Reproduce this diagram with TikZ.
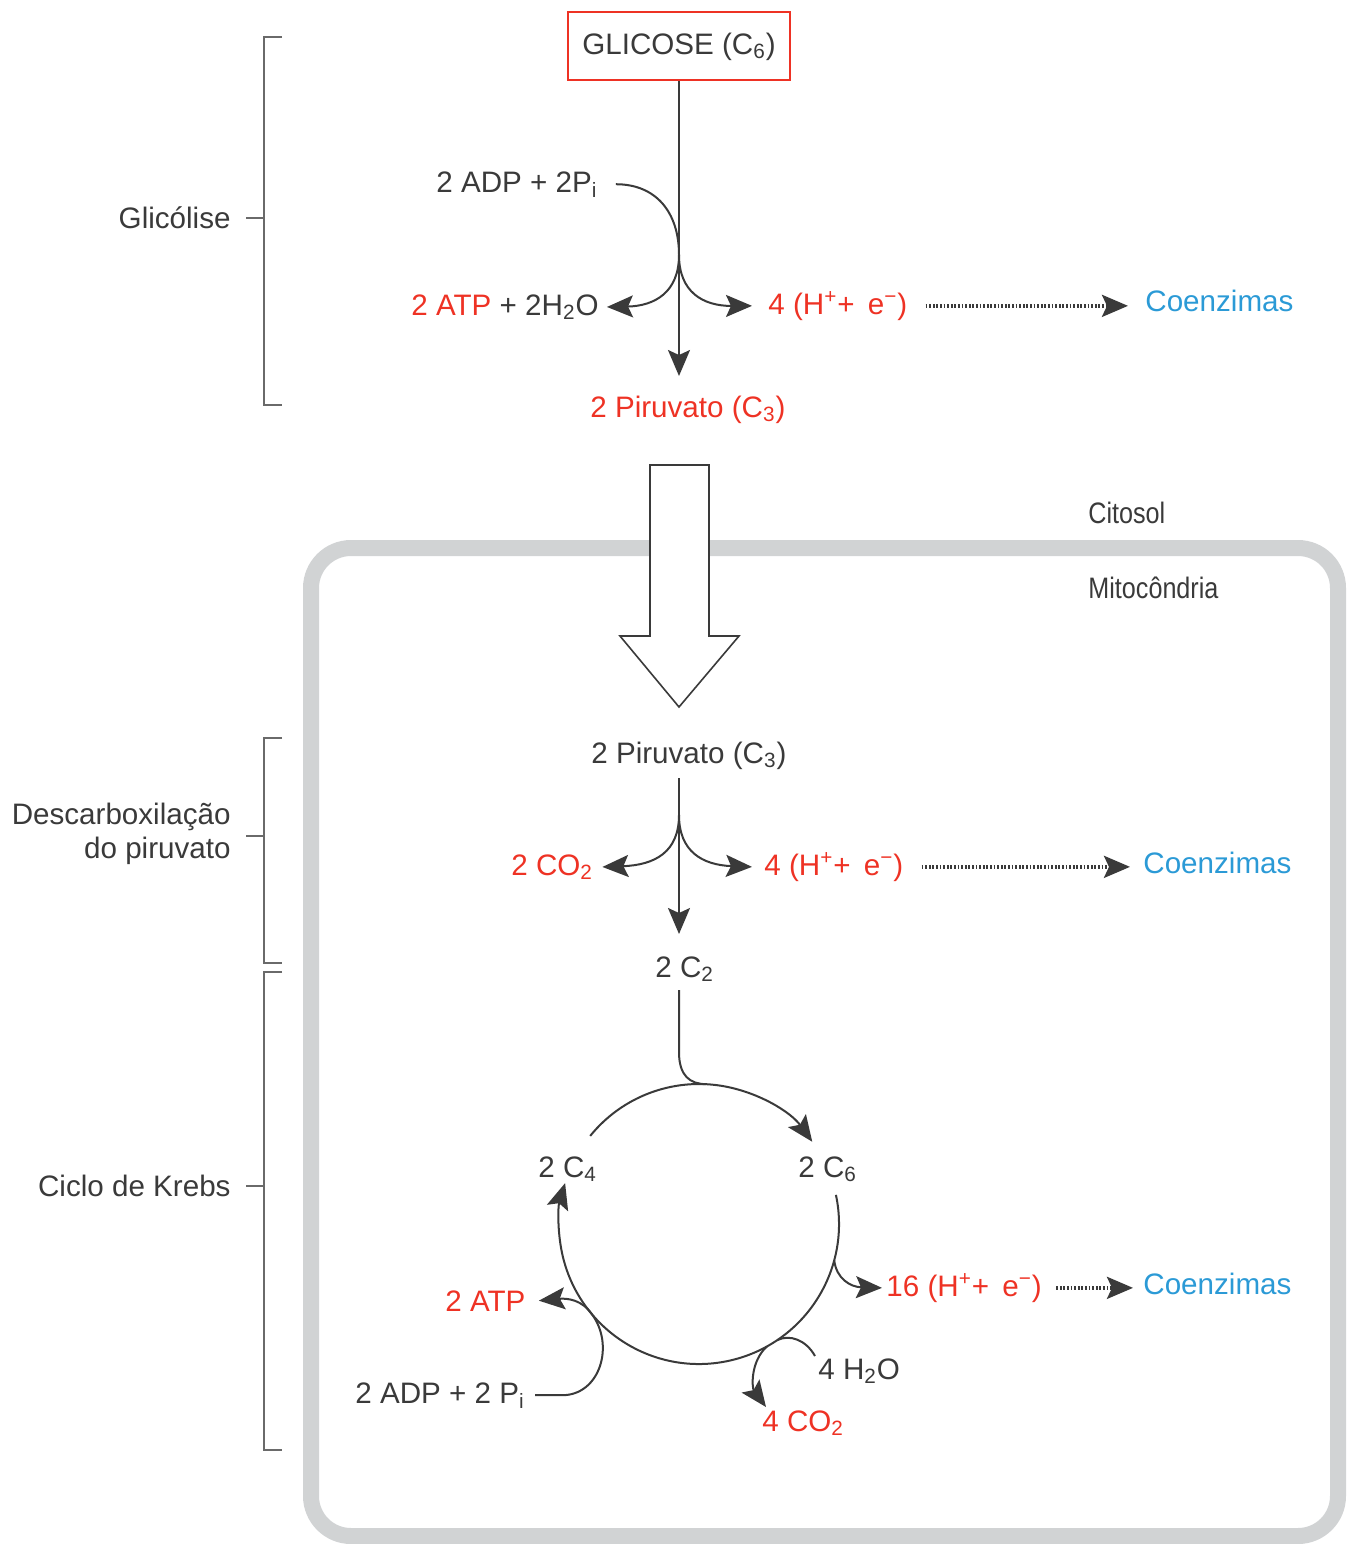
\documentclass[tikz,border=0pt]{standalone}
\usepackage{fontspec}
\usepackage{graphicx}
\setmainfont{Liberation Sans}
\usetikzlibrary{arrows.meta,calc}
\definecolor{txt}{HTML}{3A3A3A}
\definecolor{rd}{HTML}{EE3224}
\definecolor{bl}{HTML}{2B9AD6}
\definecolor{mem}{HTML}{D1D3D4}
\definecolor{brk}{HTML}{6A6A6A}
\newcommand{\tsb}[1]{\textsubscript{#1}}
\newcommand{\tsp}[1]{\textsuperscript{#1}}
\begin{document}
\begin{tikzpicture}[x=0.5pt,y=-0.5pt,
  lbl/.style={inner sep=0pt, anchor=base west, font=\fontsize{14.8}{17}\selectfont, text=txt},
  rtxt/.style={lbl, text=rd},
  btxt/.style={lbl, text=bl},
  ln/.style={draw=txt, line width=1pt},
  arr/.style={ln, -{Stealth[length=13pt,width=11pt,inset=2.5pt]}},
  dotarr/.style={draw=txt, line width=1.7pt, dash pattern=on 0.9pt off 0.9pt, -{Stealth[length=13pt,width=11pt,inset=2.5pt]}},
  brkt/.style={draw=brk, line width=1.2pt},
  sidelbl/.style={inner sep=0pt, font=\fontsize{14.8}{17}\selectfont, text=txt, align=right}
]
\useasboundingbox (0,0) rectangle (1349,1544);

% mitochondrion membrane
\draw[mem, line width=8pt, rounded corners=20pt] (311,548) rectangle (1338,1536);

% hollow transfer arrow
\draw[draw=txt, fill=white, line width=0.8pt] (650,465) -- (709,465) -- (709,636) -- (739,636) -- (679,707) -- (620,636) -- (650,636) -- cycle;

% ---------- Glycolysis ----------
\node[draw=rd, line width=1pt, minimum width=111pt, minimum height=34pt, inner sep=0pt,
      text height=11pt, text depth=3pt, font=\fontsize{14.8}{17}\selectfont, text=txt] (glic) at (679,46) {GLICOSE (C\tsb{6})};
\node[lbl] (adp) at (436,192) {2 ADP + 2P\tsb{i}};
\node[rtxt] (atp) at (411,315) {2 ATP \textcolor{txt}{+ 2H\tsb{2}O}};
\node[rtxt] (hel1) at (768,314) {4 (H\tsp{+}+ \,e\tsp{−})};
\node[btxt] (coe1) at (1145,311) {Coenzimas};
\node[rtxt] (pir1) at (590,417) {2 Piruvato (C\tsb{3})};

\coordinate (g1) at (679,255);
\coordinate (tip1) at (679,376);
\draw[arr] (glic.south) -- (tip1);
\draw[ln] ([xshift=9pt]adp.east) .. controls +(40,0) and (679,212) .. (g1);
\draw[arr] (g1) .. controls (679,292) and (655,306) .. ([xshift=4pt]atp.east);
\draw[arr] (g1) .. controls (679,292) and (703,306) .. ([xshift=-8pt]hel1.west);
\draw[dotarr] ([xshift=9pt]hel1.east) -- ([xshift=-8.5pt]hel1.east -| coe1.west);

% compartments
\node[lbl] (cit) at (1088,523) {\scalebox{0.85}[1]{Citosol}};
\node[lbl] (mito) at (1088,598) {\scalebox{0.85}[1]{Mitocôndria}};

% ---------- Pyruvate decarboxylation ----------
\node[lbl] (pir2) at (591,763) {2 Piruvato (C\tsb{3})};
\node[rtxt] (co2a) at (511,875) {2 CO\tsb{2}};
\node[rtxt] (hel2) at (764,875) {4 (H\tsp{+}+ \,e\tsp{−})};
\node[btxt] (coe2) at (1143,873) {Coenzimas};
\node[lbl] (c2) at (655,977) {2 C\tsb{2}};

\coordinate (s2) at (679,778);
\coordinate (g2) at (679,815);
\coordinate (tip2) at (679,934);
\draw[arr] (s2) -- (tip2);
\draw[arr] (g2) .. controls (679,852) and (655,865) .. ([xshift=4.5pt]co2a.east);
\draw[arr] (g2) .. controls (679,852) and (703,865) .. ([xshift=-6pt]hel2.west);
\draw[dotarr] ([xshift=9pt]hel2.east) -- ([xshift=-6.5pt]hel2.east -| coe2.west);

% ---------- Krebs cycle ----------
\coordinate (kc) at (699,1224);
\node[lbl] (c4) at (538,1177) {2 C\tsb{4}};
\node[lbl] (c6) at (798,1177) {2 C\tsb{6}};
\node[rtxt] (hel3) at (886,1296) {16 (H\tsp{+}+ \,e\tsp{−})};
\node[btxt] (coe3) at (1143,1294) {Coenzimas};
\node[rtxt] (atp2) at (445,1311) {2 ATP};
\node[lbl] (adp2) at (355,1403) {2 ADP + 2 P\tsb{i}};
\node[lbl] (h2o) at (818,1379) {4 H\tsb{2}O};
\node[rtxt] (co2b) at (762,1431) {4 CO\tsb{2}};

\coordinate (c2s) at (679,990);
\coordinate (ktop) at ($(kc)+(87:70pt)$);
\draw[ln] (c2s) -- (679,1052) .. controls (679,1076) and (690,1084) .. (ktop);
\draw[arr] ($(kc)+(141:70pt)$) arc[start angle=141, end angle=36, radius=70pt];
\draw[arr] ($(kc)+(12:70pt)$) arc[start angle=12, end angle=-197, radius=70pt];

\coordinate (k3) at ($(kc)+(-15:70pt)$);
\draw[arr] (k3) .. controls ($(k3)+(2,18)$) and (850,1287) .. ([xshift=-2pt]hel3.west);
\draw[dotarr] ([xshift=7pt]hel3.east) -- ([xshift=-5pt]hel3.east -| coe3.west);

\coordinate (hw) at (815,1356);
\coordinate (k4) at ($(kc)+(-56:70pt)$);
\draw[ln] (hw) .. controls (806,1340) and (790,1334) .. (k4);
\coordinate (k5) at ($(kc)+(-61:70pt)$);
\coordinate (tip5) at (766,1407);
\draw[arr] (k5) .. controls (750,1362) and (752,1388) .. (tip5);

\coordinate (k6) at ($(kc)+(-140:70pt)$);
\draw[arr] (k6) .. controls (582,1300) and (568,1298) .. ([xshift=6.5pt]atp2.east);
\draw[ln] ([xshift=5pt]adp2.east) -- ++(27,0) .. controls +(38,0) and (615,1345) .. (k6);

% ---------- Brackets ----------
\draw[brkt] (282,37) -- (264,37) -- (264,405) -- (282,405);
\draw[brkt] (246,218) -- (264,218);
\node[sidelbl, anchor=east] (lab1) at (231,218) {Glicólise};

\draw[brkt] (282,738) -- (264,738) -- (264,963) -- (282,963);
\draw[brkt] (246,836) -- (264,836);
\node[sidelbl, anchor=east] (lab2) at (231,834) {Descarboxilação\\do piruvato};

\draw[brkt] (282,972) -- (264,972) -- (264,1450) -- (282,1450);
\draw[brkt] (246,1186) -- (264,1186);
\node[sidelbl, anchor=east] (lab3) at (231,1186) {Ciclo de Krebs};
\end{tikzpicture}
\end{document}
